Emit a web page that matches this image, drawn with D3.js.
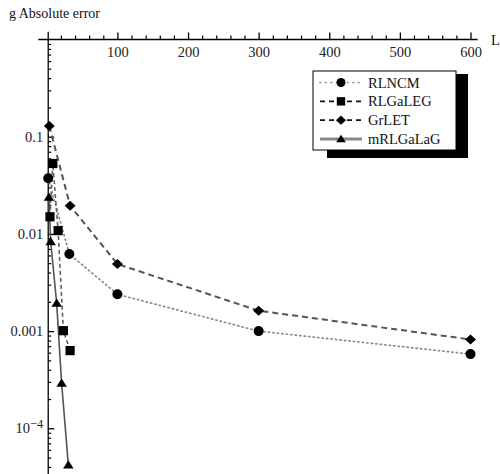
<!DOCTYPE html>
<html>
<head>
<meta charset="utf-8">
<script src="https://cdn.jsdelivr.net/npm/d3@7"></script>
<style>
  html, body { margin: 0; padding: 0; background: #fff; }
  svg { display: block; }
  text { font-family: "Liberation Serif", "Times New Roman", serif; }
</style>
</head>
<body>
<svg id="chart" width="500" height="474"></svg>
<script>
// Absolute error against L for four methods (log scale)
const seriesNames = ["RLNCM", "RLGaLEG", "GrLET", "mRLGaLaG"];

const rlncmL   = [2, 32, 100, 300, 600];
const rlncmErr = [0.0373, 0.0062, 0.00239, 0.00100, 0.00058];

const rlgalegL   = [4.5, 8.5, 16, 23.5, 33];
const rlgalegErr = [0.015, 0.053, 0.0108, 0.00101, 0.00063];

const grletL   = [3.5, 33, 100, 300, 600];
const grletErr = [0.129, 0.0195, 0.0049, 0.00162, 0.00082];

const mrlgalagL   = [3, 5.5, 14, 21, 30.5];
const mrlgalagErr = [0.0238, 0.0083, 0.00193, 0.00029, 0.000042];

const xTickValues = [100, 200, 300, 400, 500, 600];
const xTickLabels = ["100", "200", "300", "400", "500", "600"];
const yTickValues = [0.1, 0.01, 0.001, 0.0001];
const yTickLabels = ["0.1", "0.01", "0.001", "10^-4"];

const W = 500, H = 474;
const svg = d3.select("#chart");

const x = d3.scaleLinear().domain([0, 600]).range([46.8, 470.5]);
const y = d3.scaleLog().domain([1, 1e-4]).range([39.5, 428.3]);

const axisY0 = y(1);      // horizontal axis sits at error = 1
const axisX0 = x(2);      // vertical axis sits at L = 2

const fontSize = 14.5;

// ---- title ----
svg.append("text")
  .attr("x", 9).attr("y", 18)
  .attr("font-size", 14)
  .attr("fill", "#111")
  .text("g Absolute error");

// ---- horizontal axis ----
const gx = svg.append("g").attr("transform", `translate(0,${axisY0})`);
gx.append("line")
  .attr("x1", x(-12)).attr("x2", x(610))
  .attr("stroke", "#000").attr("stroke-width", 1.3);

const xMinor = d3.range(20, 601, 20).filter(v => v % 100 !== 0);
gx.append("g")
  .call(d3.axisBottom(x).tickValues(xMinor).tickSizeInner(-4).tickSizeOuter(0).tickFormat(""))
  .call(g => g.select(".domain").remove())
  .call(g => g.selectAll("line").attr("stroke", "#000").attr("stroke-width", 1.2));

gx.append("g")
  .call(d3.axisBottom(x).tickValues(xTickValues).tickSizeInner(-7).tickSizeOuter(0)
    .tickPadding(7).tickFormat((d, i) => xTickLabels[i]))
  .call(g => g.select(".domain").remove())
  .call(g => g.selectAll("line").attr("stroke", "#000").attr("stroke-width", 1.3))
  .call(g => g.selectAll("text")
    .attr("font-size", fontSize)
    .attr("font-family", "Liberation Serif, serif")
    .attr("fill", "#222"));

svg.append("text")
  .attr("x", 491).attr("y", 45)
  .attr("font-size", fontSize)
  .attr("fill", "#111")
  .text("L");

// ---- vertical axis ----
const gy = svg.append("g").attr("transform", `translate(${axisX0},0)`);
gy.append("line")
  .attr("y1", y(1.2)).attr("y2", H)
  .attr("stroke", "#000").attr("stroke-width", 1.3);

const yMinor = [];
for (let e = -5; e <= 0; e++) {
  for (let k = 2; k <= 9; k++) {
    const v = k * Math.pow(10, e);
    if (v < 1 && y(v) < H) yMinor.push(v);
  }
}
gy.append("g")
  .call(d3.axisLeft(y).tickValues(yMinor).tickSizeInner(-3).tickSizeOuter(0).tickFormat(""))
  .call(g => g.select(".domain").remove())
  .call(g => g.selectAll("line").attr("stroke", "#000").attr("stroke-width", 1.2));

gy.append("g")
  .call(d3.axisLeft(y).tickValues(yTickValues).tickSizeInner(-6).tickSizeOuter(0)
    .tickPadding(5).tickFormat((d, i) => yTickLabels[i]))
  .call(g => g.select(".domain").remove())
  .call(g => g.selectAll("line").attr("stroke", "#000").attr("stroke-width", 1.3))
  .call(g => g.selectAll("text")
    .attr("font-size", fontSize)
    .attr("font-family", "Liberation Serif, serif")
    .attr("fill", "#222")
    .each(function (d, i) {
      const lab = yTickLabels[i];
      if (lab.includes("^")) {
        const [base, exp] = lab.split("^");
        const t = d3.select(this).text(null);
        t.append("tspan").text(base);
        t.append("tspan").attr("dy", "-0.42em").attr("font-size", 12.5)
          .text(exp.replace("-", "\u2212"));
      }
    }));

// ---- markers ----
function markerPath(kind, s) {
  switch (kind) {
    case "circle":
      return d3.symbol(d3.symbolCircle, Math.PI * s * s)();
    case "square":
      return `M${-s},${-s}H${s}V${s}H${-s}Z`;
    case "diamond":
      return `M0,${-s}L${s * 1.1},0L0,${s}L${-s * 1.1},0Z`;
    case "triangle":
      return `M0,${-s * 0.95}L${s * 1.05},${s * 0.7}L${-s * 1.05},${s * 0.7}Z`;
  }
}

const series = [
  { name: seriesNames[0], L: rlncmL, err: rlncmErr, marker: "circle", size: 5,
    stroke: "#8a8a8a", width: 1.7, dash: "1.3,3.2", legendSize: 4.5 },
  { name: seriesNames[1], L: rlgalegL, err: rlgalegErr, marker: "square", size: 4.6,
    stroke: "#606060", width: 1.6, dash: "4,3", legendSize: 4.2 },
  { name: seriesNames[2], L: grletL, err: grletErr, marker: "diamond", size: 5,
    stroke: "#555", width: 2, dash: "6,4", legendSize: 4.6 },
  { name: seriesNames[3], L: mrlgalagL, err: mrlgalagErr, marker: "triangle", size: 5,
    stroke: "#555", width: 1.6, dash: null, legendSize: 4.6 }
];

svg.append("clipPath").attr("id", "plotClip")
  .append("rect").attr("x", 0).attr("y", 20).attr("width", W).attr("height", H - 20);

const plot = svg.append("g").attr("clip-path", "url(#plotClip)");
const line = d3.line().x(d => x(d.L)).y(d => y(d.v));

series.forEach(s => {
  const pts = s.L.map((L, i) => ({ L, v: s.err[i] }));
  plot.append("path")
    .datum(pts)
    .attr("d", line)
    .attr("fill", "none")
    .attr("stroke", s.stroke)
    .attr("stroke-width", s.width)
    .attr("stroke-linecap", s.dash && s.dash.startsWith("1.") ? "round" : "butt")
    .attr("stroke-dasharray", s.dash);
});

series.forEach(s => {
  const pts = s.L.map((L, i) => ({ L, v: s.err[i] }));
  plot.selectAll(null)
    .data(pts)
    .join("path")
    .attr("transform", d => `translate(${x(d.L)},${y(d.v)})`)
    .attr("d", markerPath(s.marker, s.size))
    .attr("fill", "#000");
});

// ---- legend with drop shadow ----
const lg = { x: 313, y: 71, w: 143, h: 79 };
svg.append("rect")
  .attr("x", lg.x + 14).attr("y", lg.y + 3)
  .attr("width", lg.w - 2).attr("height", lg.h + 5)
  .attr("fill", "#000");
svg.append("rect")
  .attr("x", lg.x).attr("y", lg.y)
  .attr("width", lg.w).attr("height", lg.h)
  .attr("fill", "#fff").attr("stroke", "#000").attr("stroke-width", 1);

const rowY = d3.scalePoint().domain(seriesNames).range([82.5, 139]);
const legendRows = svg.append("g");
series.forEach(s => {
  const yy = rowY(s.name);
  const legendStroke = s.dash ? (s.marker === "circle" ? "#8a8a8a" : "#111") : "#888";
  legendRows.append("line")
    .attr("x1", 320).attr("x2", 362).attr("y1", yy).attr("y2", yy)
    .attr("stroke", legendStroke)
    .attr("stroke-width", s.dash ? (s.marker === "circle" ? 1.7 : 1.6) : 2.8)
    .attr("stroke-linecap", s.marker === "circle" ? "round" : "butt")
    .attr("stroke-dasharray", s.marker === "circle" ? "0.5,5" : (s.dash ? "5,4" : null));
  legendRows.append("path")
    .attr("transform", `translate(341,${yy})`)
    .attr("d", markerPath(s.marker, s.legendSize))
    .attr("fill", "#000");
  legendRows.append("text")
    .attr("x", 368).attr("y", yy + 5)
    .attr("font-size", fontSize)
    .attr("fill", "#111")
    .text(s.name);
});
</script>
</body>
</html>
